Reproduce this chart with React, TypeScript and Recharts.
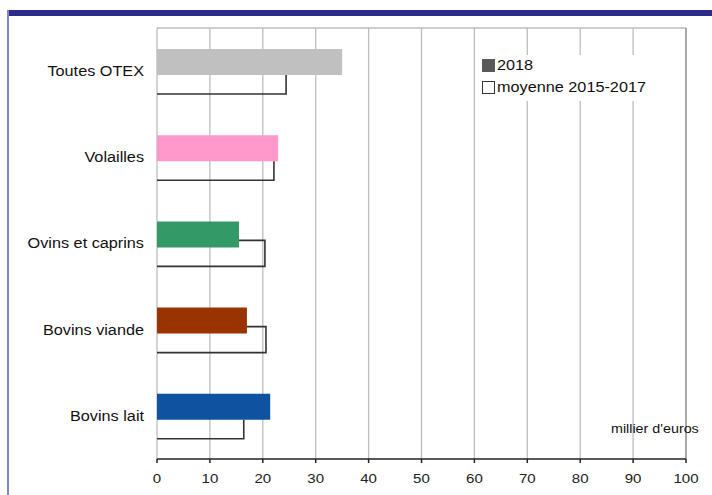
import { BarChart, Bar, XAxis, YAxis, CartesianGrid, Cell, Legend, ReferenceLine } from "recharts";

const CATEGORIES = ["Toutes OTEX", "Volailles", "Ovins et caprins", "Bovins viande", "Bovins lait"];
const VALUES_2018 = [35.0, 22.9, 15.5, 17.0, 21.4];
const VALUES_AVG = [24.4, 22.1, 20.4, 20.6, 16.4];
const BAR_COLORS = ["#c0c0c0", "#ff99cc", "#339966", "#993300", "#0f52a0"];
const X_TICKS = [0, 10, 20, 30, 40, 50, 60, 70, 80, 90, 100];
const BAND_TICKS = [0, 1, 2, 3, 4, 5];
const SERIES_LABELS = ["2018", "moyenne 2015-2017"];
const UNIT_LABEL = "millier d'euros";

const FONT = "'Liberation Sans', Arial, sans-serif";
const STRETCH = 1.16;
const OVERLAP = 7;

const chartData = CATEGORIES.map((name, i) => ({
  name,
  y2018: VALUES_2018[i],
  avg: VALUES_AVG[i],
}));

// outline bar without the edges hidden under the 2018 bar
const AvgShape = (props: any) => {
  const { x, y, width, height, payload } = props;
  const end2018 = x + (payload.y2018 / payload.avg) * width;
  const right = x + width;
  const d =
    right > end2018
      ? `M${end2018},${y} H${right} V${y + height} H${x}`
      : `M${right},${y + OVERLAP} V${y + height} H${x}`;
  return <path d={d} fill="none" stroke="#333" strokeWidth={1.6} />;
};

const XTick = ({ x, y, payload }: any) => (
  <g transform={`translate(${x},${y})`}>
    <text
      x={0}
      y={0}
      dy="0.71em"
      textAnchor="middle"
      fontSize={13}
      fontFamily={FONT}
      fill="#222"
      transform={`scale(${STRETCH},1)`}
    >
      {payload.value}
    </text>
  </g>
);

const CatTick = ({ x, y, payload }: any) => (
  <g transform={`translate(${x},${y})`}>
    <text
      x={0}
      y={0}
      dy="0.355em"
      textAnchor="end"
      fontSize={14}
      fontFamily={FONT}
      fill="#111"
      transform={`scale(${STRETCH},1)`}
    >
      {payload.value}
    </text>
  </g>
);

const LegendBox = () => (
  <div style={{ background: "#fff", width: 184, height: 46, position: "relative", fontFamily: FONT }}>
    {SERIES_LABELS.map((label, i) => (
      <div key={label} style={{ position: "absolute", left: 6, top: 3 + i * 22, height: 14, display: "flex", alignItems: "center" }}>
        <div
          style={{
            width: i === 0 ? 13 : 11,
            height: i === 0 ? 13 : 11,
            background: i === 0 ? "#595959" : "#fff",
            border: i === 0 ? "none" : "1.5px solid #333",
          }}
        />
        <span
          style={{
            marginLeft: 2,
            fontSize: 14,
            color: "#111",
            display: "inline-block",
            transform: `scaleX(${STRETCH})`,
            transformOrigin: "left center",
            whiteSpace: "nowrap",
          }}
        >
          {label}
        </span>
      </div>
    ))}
  </div>
);

export default function App() {
  return (
    <div style={{ position: "fixed", left: 0, top: 0, width: 712, height: 495, background: "#fff", overflow: "hidden" }}>
      <div style={{ position: "absolute", left: 7, top: 10, width: 705, height: 6, background: "#2b2b8c" }} />
      <div style={{ position: "absolute", left: 7, top: 10, width: 2, height: 485, background: "#8585c6" }} />
      <BarChart
        width={712}
        height={495}
        data={chartData}
        layout="vertical"
        margin={{ top: 28, right: 26, bottom: 6, left: 7 }}
        barGap={-OVERLAP}
      >
        <CartesianGrid
          yAxisId="b_cat"
          stroke="#bdbdbd"
          strokeWidth={1.3}
          horizontalCoordinatesGenerator={({ offset }: any) => [offset.top]}
        />
        <ReferenceLine yAxisId="b_cat" x={100} stroke="#9a9a9a" strokeWidth={1.5} />
        <XAxis
          type="number"
          domain={[0, 100]}
          ticks={X_TICKS}
          interval={0}
          height={30}
          tickSize={4}
          tickMargin={11}
          tick={<XTick />}
          axisLine={{ stroke: "#222", strokeWidth: 1.5 }}
          tickLine={{ stroke: "#222", strokeWidth: 1.5 }}
        />
        <YAxis
          yAxisId="a_band"
          type="number"
          domain={[0, 5]}
          ticks={BAND_TICKS}
          interval={0}
          width={0}
          tick={false}
          tickSize={5}
          axisLine={{ stroke: "#222", strokeWidth: 1.5 }}
          tickLine={{ stroke: "#222", strokeWidth: 1.5 }}
        />
        <YAxis
          yAxisId="b_cat"
          type="category"
          dataKey="name"
          width={150}
          interval={0}
          axisLine={false}
          tickLine={false}
          tickSize={0}
          tickMargin={13}
          tick={<CatTick />}
        />
        <Legend
          layout="vertical"
          align="center"
          verticalAlign="middle"
          content={<LegendBox />}
          wrapperStyle={{ position: "absolute", top: 55, left: 476, width: 184, height: 46 }}
        />
        <Bar yAxisId="b_cat" dataKey="y2018" barSize={26} isAnimationActive={false}>
          {chartData.map((_, i) => (
            <Cell key={`c-${i}`} fill={BAR_COLORS[i]} />
          ))}
        </Bar>
        <Bar yAxisId="b_cat" dataKey="avg" barSize={26} shape={<AvgShape />} isAnimationActive={false} />
      </BarChart>
      <div
        style={{
          position: "absolute",
          left: 611,
          top: 421,
          fontFamily: FONT,
          fontSize: 13,
          color: "#111",
          transform: "scaleX(1.1)",
          transformOrigin: "left center",
          whiteSpace: "nowrap",
        }}
      >
        {UNIT_LABEL}
      </div>
    </div>
  );
}
